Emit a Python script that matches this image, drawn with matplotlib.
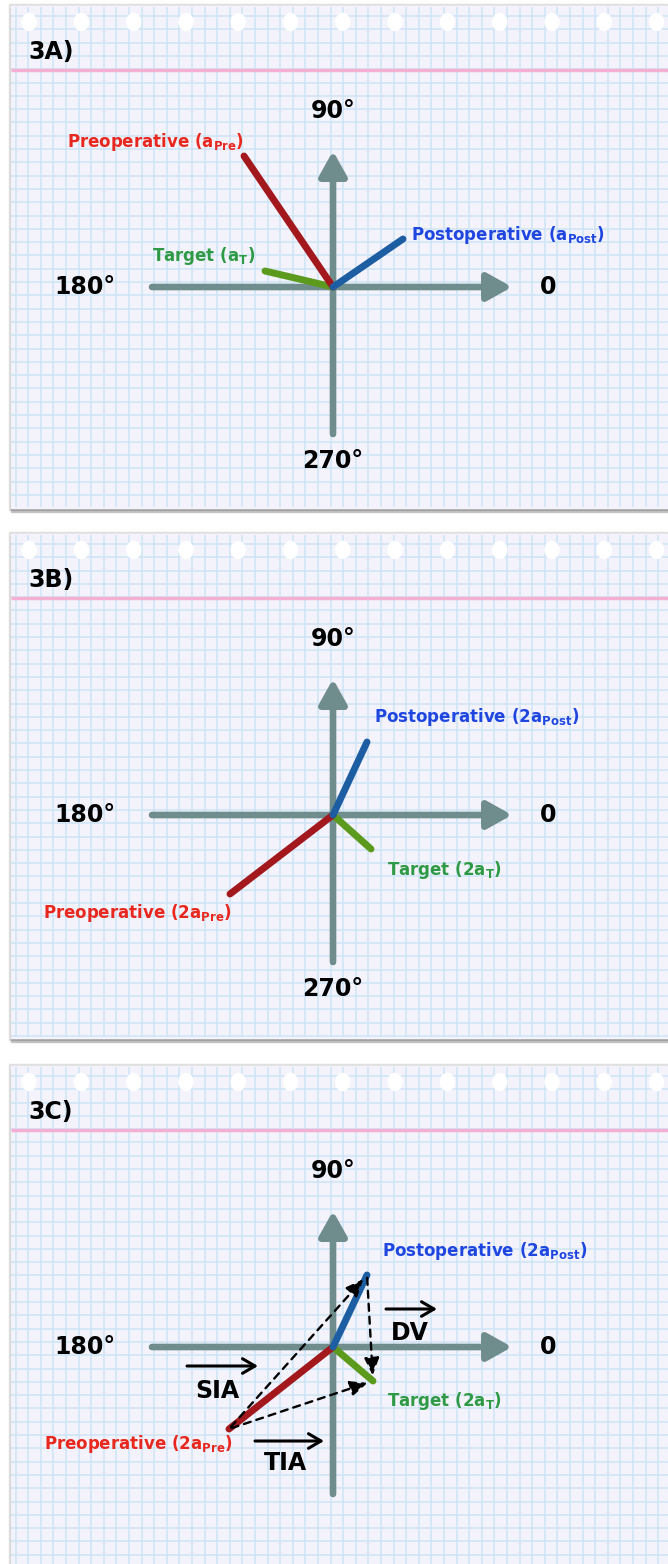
import numpy as np
import matplotlib

matplotlib.use("Agg")
import matplotlib.pyplot as plt
from matplotlib.patches import Rectangle, Ellipse

plt.rcParams["font.family"] = ["DejaVu Sans"]
plt.rcParams["mathtext.fontset"] = "custom"
plt.rcParams["mathtext.rm"] = "DejaVu Sans:bold"

W, H = 668, 1564

# panel titles and the angle marks on each axis
PANEL_TITLES = ["3A)", "3B)", "3C)"]
ANGLE_LABELS = ["90°", "180°", "0", "270°"]
SHOW_270 = [True, True, False]

# vector tips (units of 10 px from the axis crossing, y up)
PRE_X = [-8.9, -10.3, -10.4]
PRE_Y = [13.1, -7.9, -8.2]
TARGET_X = [-6.8, 3.8, 4.0]
TARGET_Y = [1.6, -3.4, -3.4]
POST_X = [7.0, 3.4, 3.4]
POST_Y = [4.8, 7.3, 7.2]

PRE_LABELS = [
    r"Preoperative ($\mathrm{a}_{\mathrm{Pre}}$)",
    r"Preoperative ($\mathrm{2a}_{\mathrm{Pre}}$)",
    r"Preoperative ($\mathrm{2a}_{\mathrm{Pre}}$)",
]
TARGET_LABELS = [
    r"Target ($\mathrm{a}_{\mathrm{T}}$)",
    r"Target ($\mathrm{2a}_{\mathrm{T}}$)",
    r"Target ($\mathrm{2a}_{\mathrm{T}}$)",
]
POST_LABELS = [
    r"Postoperative ($\mathrm{a}_{\mathrm{Post}}$)",
    r"Postoperative ($\mathrm{2a}_{\mathrm{Post}}$)",
    r"Postoperative ($\mathrm{2a}_{\mathrm{Post}}$)",
]
# dashed difference vectors in panel 3C: (name, from, to)
DIFF_NAMES = ["SIA", "TIA", "DV"]
DIFF_FROM = ["pre", "pre", "post"]
DIFF_TO = ["post", "target", "target"]

# layout (pixels / label anchors)
PANEL_TOPS = [6, 534, 1066]
PANEL_BOTTOMS = [508, 1038, 1570]
PANEL_LEFT = 11
ORIGIN_X = 333
ORIGIN_DY = 281
SCALE = 10.0

PRE_POS = [(-17.75, 14.5), (-19.6, -9.8), (-19.5, -9.7)]
TARGET_POS = [(-12.9, 3.1), (11.1, -5.5), (11.1, -5.4)]
POST_POS = [(17.5, 5.2), (14.4, 9.8), (15.2, 9.6)]
DIFF_TEXT_POS = {"SIA": (-11.6, -4.4), "TIA": (-4.8, -11.6), "DV": (7.7, 1.4)}
DIFF_ARROW_POS = {"SIA": (-14.6, -7.5, -1.9), "TIA": (-7.8, -0.9, -9.4), "DV": (5.3, 10.4, 3.8)}

PAPER = "#f4f3fb"
GRID = "#cde5f6"
PINK = "#f3b0d2"
AXIS_COLOR = "#6f8d8c"
LINE_COLORS = {"pre": "#a3181c", "target": "#5c9a1e", "post": "#1d5ea3"}
TEXT_COLORS = {"pre": "#e8281e", "target": "#2f9a45", "post": "#2046e0"}

fig = plt.figure(figsize=(W / 100, H / 100), dpi=100)
fig.patch.set_facecolor("white")

# notebook paper background
bg = fig.add_axes([0, 0, 1, 1])
bg.set_xlim(0, W)
bg.set_ylim(H, 0)
bg.axis("off")
for top, bottom in zip(PANEL_TOPS, PANEL_BOTTOMS):
    height = bottom - top
    bg.add_patch(Rectangle((PANEL_LEFT - 2, top - 2), W, height + 4, color="#e0e0e0", zorder=0))
    bg.add_patch(Rectangle((PANEL_LEFT, top + 4), W, height, color="#c4c4c4", zorder=0))
    bg.add_patch(Rectangle((PANEL_LEFT, top + 2), W, height, color="#a2a2a2", zorder=0))
    bg.add_patch(Rectangle((PANEL_LEFT, top), W, height, color=PAPER, zorder=1))
    xs = np.arange(15.6, W, 12.6)
    bg.vlines(xs, top + 1, bottom - 1, color=GRID, lw=1.1, zorder=2)
    ys = np.arange(top + 10, bottom - 1, 13.3)
    bg.hlines(ys, PANEL_LEFT, W, color=GRID, lw=1.1, zorder=2)
    bg.hlines(top + 63.5, PANEL_LEFT, W, color=PINK, lw=2.5, zorder=3)
    for hx in np.arange(29, W + 10, 52.3):
        bg.add_patch(Ellipse((hx, top + 16), 14, 17, color="white", zorder=4))

for i in range(3):
    top, bottom = PANEL_TOPS[i], PANEL_BOTTOMS[i]
    oy = top + ORIGIN_DY
    ax = fig.add_axes([PANEL_LEFT / W, 1 - bottom / H, (W - PANEL_LEFT) / W, (bottom - top) / H])
    ax.set_xlim((PANEL_LEFT - ORIGIN_X) / SCALE, (W - ORIGIN_X) / SCALE)
    ax.set_ylim((oy - bottom) / SCALE, (oy - top) / SCALE)
    ax.axis("off")
    ax.patch.set_alpha(0)

    ax.text(-30.5, 23.5, PANEL_TITLES[i], fontsize=17, fontweight="bold", ha="left", va="center")

    axis_props = dict(
        arrowstyle="-|>,head_length=0.75,head_width=0.42",
        mutation_scale=20,
        lw=4.8,
        color=AXIS_COLOR,
        shrinkA=0,
        shrinkB=0,
        capstyle="round",
        joinstyle="round",
    )
    ax.annotate("", xy=(17.9, 0), xytext=(-18.1, 0), arrowprops=axis_props)
    ax.annotate("", xy=(0, 13.6), xytext=(0, -14.7), arrowprops=axis_props)

    angle_kw = dict(fontsize=17, fontweight="bold", ha="center", va="center")
    ax.text(0, 17.6, ANGLE_LABELS[0], **angle_kw)
    ax.text(-24.8, 0, ANGLE_LABELS[1], **angle_kw)
    ax.text(21.5, 0, ANGLE_LABELS[2], **angle_kw)
    if SHOW_270[i]:
        ax.text(0, -17.4, ANGLE_LABELS[3], **angle_kw)

    tips = {
        "pre": (PRE_X[i], PRE_Y[i]),
        "target": (TARGET_X[i], TARGET_Y[i]),
        "post": (POST_X[i], POST_Y[i]),
    }
    for key in ("target", "pre", "post"):
        tx, ty = tips[key]
        ax.plot([0, tx], [0, ty], color=LINE_COLORS[key], lw=5, solid_capstyle="round", zorder=5)

    for key, labels, pos in (("pre", PRE_LABELS, PRE_POS), ("target", TARGET_LABELS, TARGET_POS),
                             ("post", POST_LABELS, POST_POS)):
        ax.text(pos[i][0], pos[i][1], labels[i], fontsize=12, fontweight="bold",
                color=TEXT_COLORS[key], ha="center", va="center")

    if i == 2:
        for name, src, dst in zip(DIFF_NAMES, DIFF_FROM, DIFF_TO):
            ax.annotate(
                "",
                xy=tips[dst],
                xytext=tips[src],
                arrowprops=dict(arrowstyle="-|>,head_length=0.7,head_width=0.3", mutation_scale=15,
                                lw=1.7, ls=(0, (3, 2.5)), color="black", shrinkA=2, shrinkB=4),
                zorder=6,
            )
            x0, x1, ya = DIFF_ARROW_POS[name]
            ax.annotate("", xy=(x1, ya), xytext=(x0, ya),
                        arrowprops=dict(arrowstyle="->,head_length=0.6,head_width=0.35", mutation_scale=15,
                                        lw=2.2, color="black", shrinkA=0, shrinkB=0))
            px, py = DIFF_TEXT_POS[name]
            ax.text(px, py, name, fontsize=17, fontweight="bold", ha="center", va="center")

fig.savefig("out.png", dpi=100)
